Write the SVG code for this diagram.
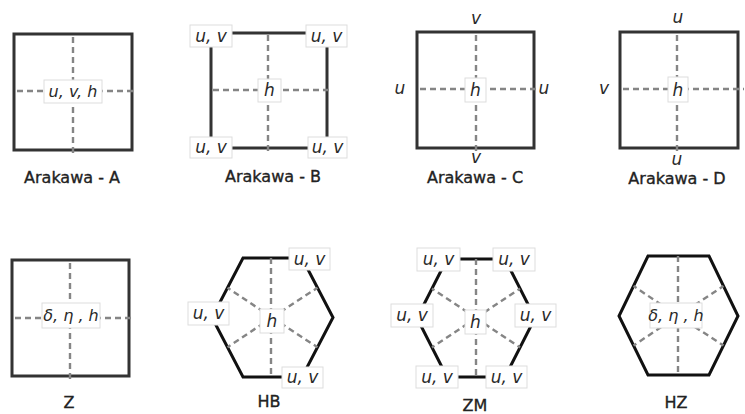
<svg xmlns="http://www.w3.org/2000/svg" width="745" height="414" viewBox="0 0 745 414">
<style>
.sq{fill:none;stroke:#333;stroke-width:3}
.hex{fill:none;stroke:#111;stroke-width:3}
.dash{fill:none;stroke:#858585;stroke-width:2.4;stroke-dasharray:6 4}
.box{fill:#fff;stroke:#ddd;stroke-width:1}
.it{font-family:"DejaVu Sans",sans-serif;font-style:italic;font-size:17px;fill:#2a2a2a;text-anchor:middle}
.it.sm{font-size:16px}
.cap{font-family:"DejaVu Sans",sans-serif;font-size:16px;fill:#222;stroke:#222;stroke-width:0.35;text-anchor:middle}
</style>
<rect width="745" height="414" fill="#fff"/>

<g id="arakawa-a">
<rect class="sq" x="14" y="34" width="118" height="116"/>
<line class="dash" x1="73" y1="37" x2="73" y2="155"/>
<line class="dash" x1="17" y1="91" x2="135" y2="91"/>
<rect class="box" x="44" y="80" width="58" height="23"/>
<text class="it sm" x="73" y="97">u, v, h</text>
<text class="cap" x="72" y="183">Arakawa - A</text>
</g>

<g id="arakawa-b">
<rect class="sq" x="211" y="33" width="116" height="115"/>
<line class="dash" x1="268" y1="35" x2="268" y2="153"/>
<line class="dash" x1="213" y1="90" x2="330" y2="90"/>
<rect class="box" x="258" y="79" width="23" height="23"/>
<text class="it" x="269.5" y="96">h</text>
<rect class="box" x="190" y="25" width="42" height="22"/>
<text class="it" x="211" y="42">u, v</text>
<rect class="box" x="306" y="25" width="41" height="22"/>
<text class="it" x="326.5" y="42">u, v</text>
<rect class="box" x="190" y="137" width="42" height="21"/>
<text class="it" x="211" y="153">u, v</text>
<rect class="box" x="308" y="137" width="39" height="21"/>
<text class="it" x="327.5" y="153">u, v</text>
<text class="cap" x="273" y="182">Arakawa - B</text>
</g>

<g id="arakawa-c">
<rect class="sq" x="417" y="32" width="117" height="116"/>
<line class="dash" x1="476" y1="35" x2="476" y2="153"/>
<line class="dash" x1="420" y1="89" x2="537" y2="89"/>
<rect class="box" x="465" y="78" width="21" height="24"/>
<text class="it" x="475.5" y="96">h</text>
<text class="it" x="476" y="24">v</text>
<text class="it" x="476" y="163">v</text>
<text class="it" x="400" y="94">u</text>
<text class="it" x="544" y="94">u</text>
<text class="cap" x="475" y="183">Arakawa - C</text>
</g>

<g id="arakawa-d">
<rect class="sq" x="620" y="32" width="118" height="116"/>
<line class="dash" x1="677" y1="35" x2="677" y2="153"/>
<line class="dash" x1="623" y1="89" x2="744" y2="89"/>
<rect class="box" x="668" y="77" width="20" height="25"/>
<text class="it" x="678" y="96">h</text>
<text class="it" x="678" y="23">u</text>
<text class="it" x="677" y="165">u</text>
<text class="it" x="604" y="94">v</text>
<text class="cap" x="677" y="184">Arakawa - D</text>
</g>

<g id="z">
<rect class="sq" x="12" y="260" width="117" height="116"/>
<line class="dash" x1="70" y1="263" x2="70" y2="382"/>
<line class="dash" x1="15" y1="318" x2="133" y2="318"/>
<rect class="box" x="42" y="303" width="58" height="25"/>
<text class="it sm" x="71" y="321">δ, η , h</text>
<text class="cap" x="69" y="408">Z</text>
</g>

<g id="hb">
<polygon class="hex" points="243,258 302,258 333,317.5 302,377 243,377 212,317.5"/>
<line class="dash" x1="271" y1="258" x2="271" y2="377"/>
<line class="dash" x1="272" y1="317.5" x2="227.5" y2="287.75"/>
<line class="dash" x1="272" y1="317.5" x2="317.5" y2="287.75"/>
<line class="dash" x1="272" y1="317.5" x2="227.5" y2="347.25"/>
<line class="dash" x1="272" y1="317.5" x2="317.5" y2="347.25"/>
<rect class="box" x="260" y="309" width="24" height="24"/>
<text class="it" x="272" y="327">h</text>
<rect class="box" x="289" y="248" width="41" height="22"/>
<text class="it" x="309.5" y="265">u, v</text>
<rect class="box" x="188" y="302" width="41" height="23"/>
<text class="it" x="208.5" y="319">u, v</text>
<rect class="box" x="282" y="367" width="41" height="21"/>
<text class="it" x="302.5" y="383">u, v</text>
<text class="cap" x="269" y="407">HB</text>
</g>

<g id="zm">
<polygon class="hex" points="447,259 505,259 535,318 505,377 447,377 417,318"/>
<line class="dash" x1="476" y1="259" x2="476" y2="377"/>
<line class="dash" x1="476" y1="318" x2="432" y2="288.5"/>
<line class="dash" x1="476" y1="318" x2="520" y2="288.5"/>
<line class="dash" x1="476" y1="318" x2="432" y2="347.5"/>
<line class="dash" x1="476" y1="318" x2="520" y2="347.5"/>
<rect class="box" x="465" y="310" width="21" height="24"/>
<text class="it" x="475.5" y="328">h</text>
<rect class="box" x="417" y="248" width="43" height="23"/>
<text class="it" x="438.5" y="265">u, v</text>
<rect class="box" x="493" y="248" width="42" height="23"/>
<text class="it" x="514" y="265">u, v</text>
<rect class="box" x="391" y="304" width="42" height="23"/>
<text class="it" x="412" y="321">u, v</text>
<rect class="box" x="515" y="304" width="41" height="23"/>
<text class="it" x="535.5" y="321">u, v</text>
<rect class="box" x="416" y="366" width="42" height="22"/>
<text class="it" x="437" y="383">u, v</text>
<rect class="box" x="486" y="366" width="41" height="22"/>
<text class="it" x="506.5" y="383">u, v</text>
<text class="cap" x="475" y="411">ZM</text>
</g>

<g id="hz">
<polygon class="hex" points="648,256 709,256 738,316 709,375 648,375 619,316"/>
<line class="dash" x1="678" y1="256" x2="678" y2="375"/>
<line class="dash" x1="678" y1="316" x2="633.5" y2="286"/>
<line class="dash" x1="678" y1="316" x2="723.5" y2="286"/>
<line class="dash" x1="678" y1="316" x2="633.5" y2="345.5"/>
<line class="dash" x1="678" y1="316" x2="723.5" y2="345.5"/>
<rect class="box" x="650" y="303" width="52" height="25"/>
<text class="it sm" x="676" y="321">δ, η , h</text>
<text class="cap" x="676" y="408">HZ</text>
</g>
</svg>
